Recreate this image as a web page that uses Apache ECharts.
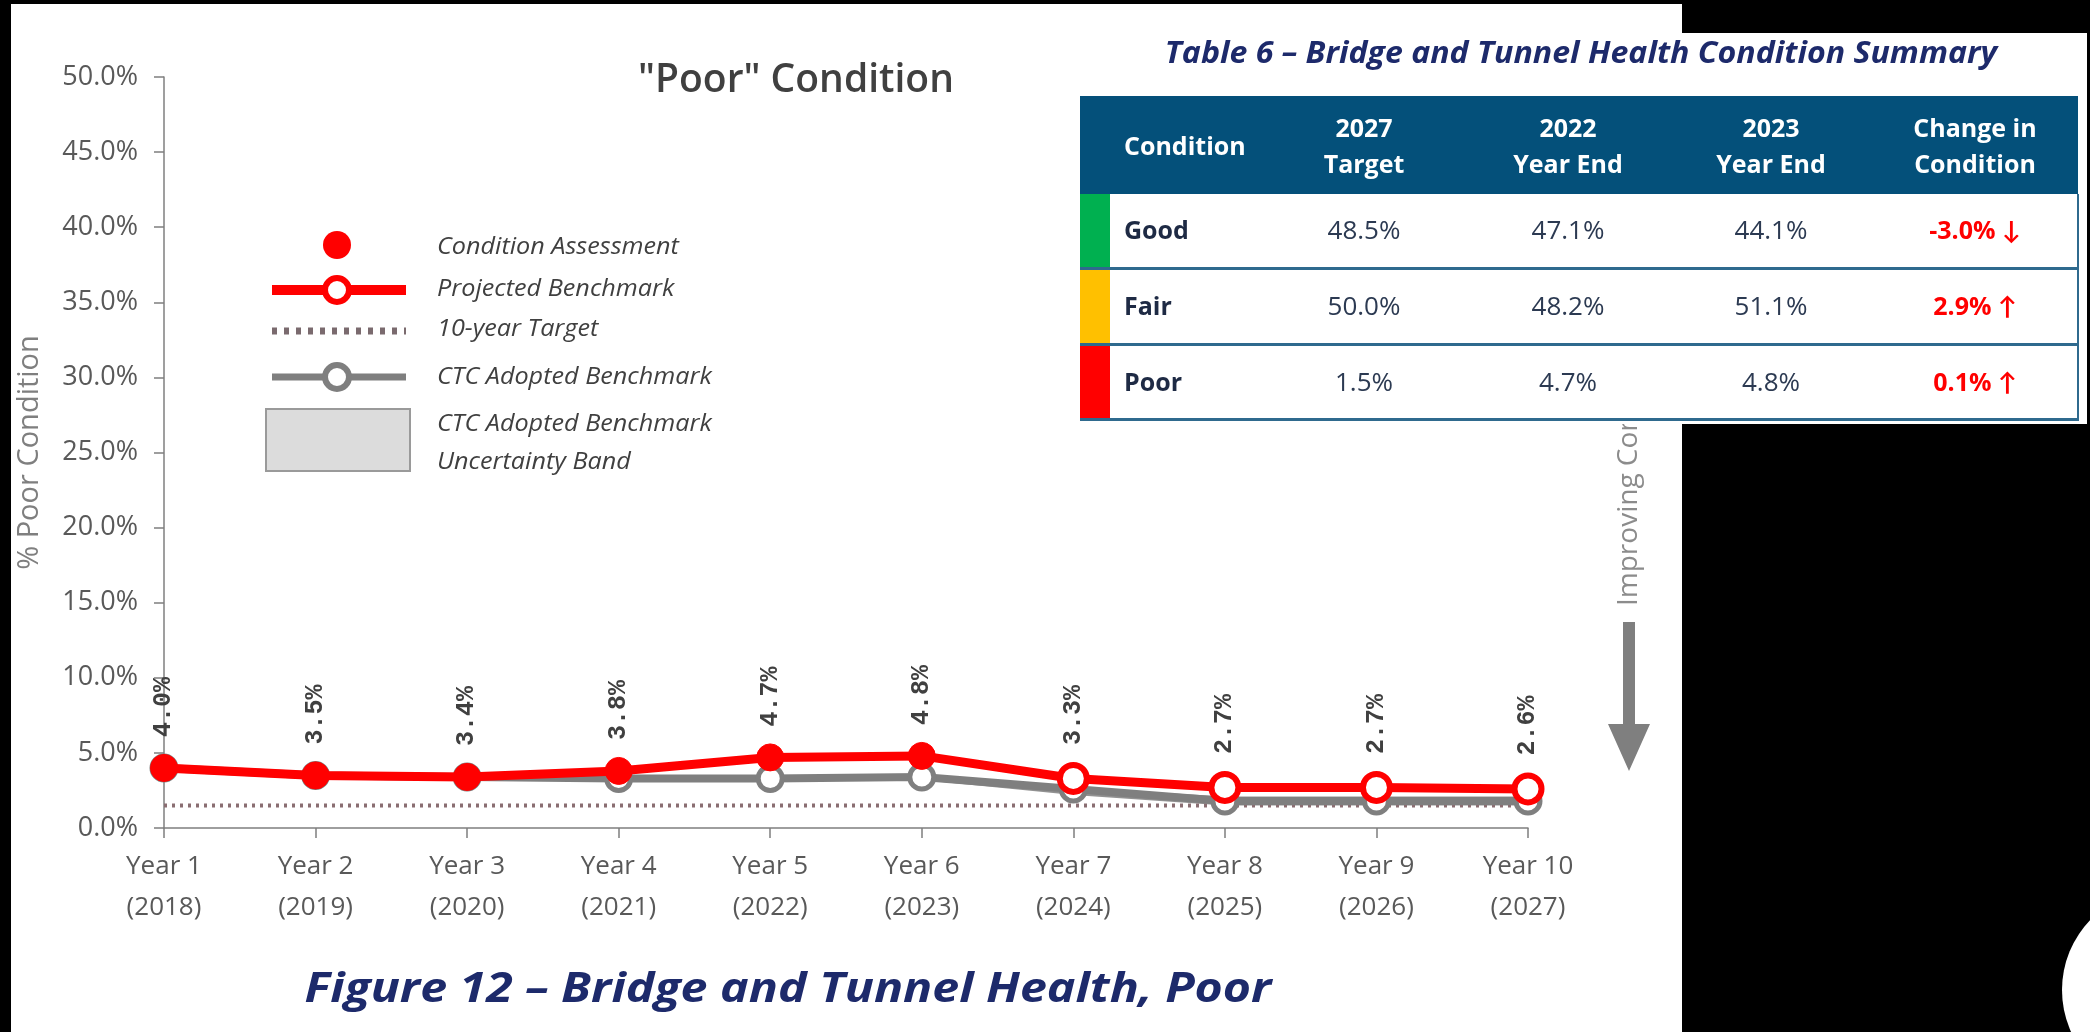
<!DOCTYPE html>
<html>
<head>
<meta charset="utf-8">
<style>
html,body{margin:0;padding:0;background:#000;}
#chart{width:2090px;height:1032px;}
</style>
<script src="https://cdn.jsdelivr.net/npm/echarts@6/dist/echarts.min.js"></script>
</head>
<body>
<div id="chart"></div>
<script>
// ---------- chart data ----------
const years = ['Year 1\n(2018)','Year 2\n(2019)','Year 3\n(2020)','Year 4\n(2021)','Year 5\n(2022)',
               'Year 6\n(2023)','Year 7\n(2024)','Year 8\n(2025)','Year 9\n(2026)','Year 10\n(2027)'];
const conditionAssessment = [4.0, 3.5, 3.4, 3.8, 4.7, 4.8, null, null, null, null];
const projectedBenchmark  = [null, null, null, null, null, 4.8, 3.3, 2.7, 2.7, 2.6];
const ctcAdoptedBenchmark = [4.0, 3.5, 3.4, 3.3, 3.3, 3.4, 2.6, 1.8, 1.8, 1.8];
const bandLow  = [null, null, null, null, null, 3.2, 2.2, 1.5, 1.5, 1.5];
const bandHigh = [null, null, null, null, null, 3.6, 2.7, 2.1, 2.1, 2.1];
const tenYearTarget = [1.5, 1.5, 1.5, 1.5, 1.5, 1.5, 1.5, 1.5, 1.5, 1.5];
const yTicks = [0, 5, 10, 15, 20, 25, 30, 35, 40, 45, 50];

// ---------- table data ----------
const tableHeaders = [['Condition'], ['2027', 'Target'], ['2022', 'Year End'], ['2023', 'Year End'], ['Change in', 'Condition']];
const tableConditions = ['Good', 'Fair', 'Poor'];
const target2027 = ['48.5%', '50.0%', '1.5%'];
const yearEnd2022 = ['47.1%', '48.2%', '4.7%'];
const yearEnd2023 = ['44.1%', '51.1%', '4.8%'];
const changeInCondition = ['-3.0% \u2193', '2.9% \u2191', '0.1% \u2191'];

const legendLabels = ['Condition Assessment', 'Projected Benchmark', '10-year Target', 'CTC Adopted Benchmark', 'CTC Adopted Benchmark', 'Uncertainty Band'];

// ---------- derived ----------
const redLine = conditionAssessment.map((v, i) => v != null ? v : projectedBenchmark[i]);
const bandSpan = bandHigh.map((v, i) => (v == null || bandLow[i] == null) ? null : +(v - bandLow[i]).toFixed(2));

const RED = '#ff0000';
const GRAY = '#7f7f7f';
const TXT = '#595959';
const FONT = '"Open Sans", Lato, sans-serif';

const chart = echarts.init(document.getElementById('chart'), null, {renderer: 'canvas'});

// ---------- graphic elements ----------
const g = [];
g.push({type: 'rect', z: -20, shape: {x: 11, y: 4, width: 1671, height: 1028}, style: {fill: '#ffffff'}});
g.push({type: 'circle', z: -20, shape: {cx: 2163, cy: 990, r: 101}, style: {fill: '#ffffff'}});

// legend
const lgX = 437;
g.push({type: 'circle', z: 10, shape: {cx: 337, cy: 245, r: 14}, style: {fill: RED}});
g.push({type: 'line', z: 10, shape: {x1: 272, y1: 290, x2: 406, y2: 290}, style: {stroke: RED, lineWidth: 10}});
g.push({type: 'circle', z: 11, shape: {cx: 337, cy: 290, r: 12}, style: {fill: '#fff', stroke: RED, lineWidth: 6}});
g.push({type: 'line', z: 10, shape: {x1: 272, y1: 331, x2: 406, y2: 331}, style: {stroke: '#7a6a6e', lineWidth: 7, lineDash: [5, 7]}});
g.push({type: 'line', z: 10, shape: {x1: 272, y1: 377, x2: 406, y2: 377}, style: {stroke: GRAY, lineWidth: 7}});
g.push({type: 'circle', z: 11, shape: {cx: 337, cy: 377, r: 12}, style: {fill: '#fff', stroke: GRAY, lineWidth: 6}});
g.push({type: 'rect', z: 10, shape: {x: 266, y: 409, width: 144, height: 62}, style: {fill: '#dcdcdc', stroke: '#9a9a9a', lineWidth: 2}});
const lgY = [247, 289, 329, 377, 424, 462];
legendLabels.forEach((t, i) => {
  g.push({type: 'text', z: 10, x: lgX, y: lgY[i], scaleX: 1.05,
    style: {text: t, fill: '#404040', font: 'italic 24px ' + FONT, align: 'left', verticalAlign: 'middle'}});
});

// "Improving Condition" + arrow
g.push({type: 'text', z: 5, x: 1629, y: 606, rotation: Math.PI / 2,
  style: {text: 'Improving Condition', fill: '#8c8c8c', font: '28px ' + FONT, align: 'left', verticalAlign: 'middle'}});
g.push({type: 'polygon', z: 5, shape: {points: [[1623, 622], [1635, 622], [1635, 724], [1650, 724], [1629, 771], [1608, 724], [1623, 724]]}, style: {fill: '#7f7f7f'}});

// caption
g.push({type: 'text', z: 10, x: 788, y: 990, scaleX: 1.15,
  style: {text: 'Figure 12 \u2013 Bridge and Tunnel Health, Poor', fill: '#1d2a6b', font: 'italic bold 42px ' + FONT, align: 'center', verticalAlign: 'middle'}});

// ---------- table panel ----------
const TZ = 100;
g.push({type: 'rect', z: TZ, shape: {x: 1068, y: 33, width: 1019, height: 391}, style: {fill: '#ffffff'}});
g.push({type: 'text', z: TZ + 1, x: 1581, y: 54, scaleX: 1.07,
  style: {text: 'Table 6 \u2013 Bridge and Tunnel Health Condition Summary', fill: '#1d2a6b', font: 'italic bold 30px ' + FONT, align: 'center', verticalAlign: 'middle'}});
g.push({type: 'rect', z: TZ + 1, shape: {x: 1080, y: 96, width: 998, height: 98}, style: {fill: '#04507a'}});
const colX = [1124, 1364, 1568, 1771, 1975];
tableHeaders.forEach((lines, c) => {
  g.push({type: 'text', z: TZ + 2, x: colX[c], y: 148,
    style: {text: lines.join('\n'), fill: '#ffffff', font: 'bold 25px ' + FONT, lineHeight: 36,
      align: c === 0 ? 'left' : 'center', verticalAlign: 'middle'}});
});
const rowTop = [194, 270, 346];
const rowH = [74, 74, 73];
const stripe = ['#00b050', '#ffc000', '#ff0000'];
tableConditions.forEach((name, r) => {
  const cy = rowTop[r] + rowH[r] / 2 + 1;
  g.push({type: 'rect', z: TZ + 1, shape: {x: 1080, y: rowTop[r], width: 30, height: rowH[r]}, style: {fill: stripe[r]}});
  g.push({type: 'line', z: TZ + 2, shape: {x1: 1080, y1: rowTop[r] + rowH[r] + 0.5, x2: 2079, y2: rowTop[r] + rowH[r] + 0.5}, style: {stroke: '#2f6a8e', lineWidth: 3}});
  g.push({type: 'text', z: TZ + 2, x: colX[0], y: cy, style: {text: name, fill: '#1e2a44', font: 'bold 25px ' + FONT, align: 'left', verticalAlign: 'middle'}});
  [target2027, yearEnd2022, yearEnd2023].forEach((arr, k) => {
    g.push({type: 'text', z: TZ + 2, x: colX[k + 1], y: cy, style: {text: arr[r], fill: '#2c3a52', font: '26px ' + FONT, align: 'center', verticalAlign: 'middle'}});
  });
  g.push({type: 'text', z: TZ + 2, x: colX[4], y: cy, style: {text: changeInCondition[r], fill: '#ff0000', font: 'bold 25px ' + FONT, align: 'center', verticalAlign: 'middle'}});
});
g.push({type: 'line', z: TZ + 2, shape: {x1: 2078, y1: 194, x2: 2078, y2: 421}, style: {stroke: '#2f6a8e', lineWidth: 2}});

// ---------- option ----------
const option = {
  animation: false,
  backgroundColor: '#000000',
  title: {
    text: '"Poor" Condition', left: 791, top: 56, textAlign: 'center',
    textStyle: {fontFamily: FONT, fontSize: 39, fontWeight: 600, color: '#404040'}
  },
  grid: {left: 164, right: 562, top: 77, bottom: 204, containLabel: false},
  xAxis: {
    type: 'category', data: years, boundaryGap: false,
    axisLine: {lineStyle: {color: GRAY, width: 1.5}},
    axisTick: {show: true, length: 10, lineStyle: {color: GRAY, width: 1.5}},
    axisLabel: {color: TXT, fontFamily: FONT, fontSize: 26, lineHeight: 41, margin: 18, interval: 0}
  },
  yAxis: {
    type: 'value', min: 0, max: 50, interval: 5,
    name: '% Poor Condition', nameLocation: 'middle', nameRotate: 90, nameGap: 120,
    nameTextStyle: {color: GRAY, fontFamily: FONT, fontSize: 29},
    axisLine: {show: true, lineStyle: {color: GRAY, width: 1.5}},
    axisTick: {show: true, length: 10, lineStyle: {color: GRAY, width: 1.5}},
    splitLine: {show: false},
    axisLabel: {color: TXT, fontFamily: FONT, fontSize: 27, margin: 26,
      formatter: v => yTicks.includes(v) ? v.toFixed(1) + '%' : ''}
  },
  series: [
    {name: 'Band Base', type: 'line', stack: 'band', data: bandLow, symbol: 'none', silent: true,
      lineStyle: {opacity: 0}, z: 1},
    {name: 'CTC Adopted Benchmark Uncertainty Band', type: 'line', stack: 'band', data: bandSpan, symbol: 'none', silent: true,
      lineStyle: {opacity: 0}, areaStyle: {color: '#6e6e6e', opacity: 0.75}, z: 1},
    {name: '10-year Target', type: 'line', data: tenYearTarget, symbol: 'none', z: 2,
      lineStyle: {color: '#8a6e72', width: 4, type: [3, 5]}},
    {name: 'CTC Adopted Benchmark', type: 'line', data: ctcAdoptedBenchmark, z: 3,
      symbol: 'circle', symbolSize: 24,
      lineStyle: {color: GRAY, width: 8},
      itemStyle: {color: '#ffffff', borderColor: GRAY, borderWidth: 5}},
    {name: 'Projected Benchmark', type: 'line', z: 4,
      data: redLine.map((v, i) => ({
        value: v, symbolSize: 27,
        itemStyle: conditionAssessment[i] != null
          ? {color: RED, borderColor: RED, borderWidth: 1}
          : {color: '#ffffff', borderColor: RED, borderWidth: 6}
      })),
      symbol: 'circle',
      lineStyle: {color: RED, width: 9},
      itemStyle: {color: RED},
      label: {show: true, position: 'top', distance: 17, rotate: 90, align: 'left', verticalAlign: 'middle',
        fontFamily: '"Liberation Mono", "DejaVu Sans Mono", monospace', fontWeight: 'bold', fontSize: 25, color: '#404040',
        formatter: p => p.value.toFixed(1) + '%'}
    }
  ],
  graphic: {elements: g}
};
chart.setOption(option);
</script>
</body>
</html>
